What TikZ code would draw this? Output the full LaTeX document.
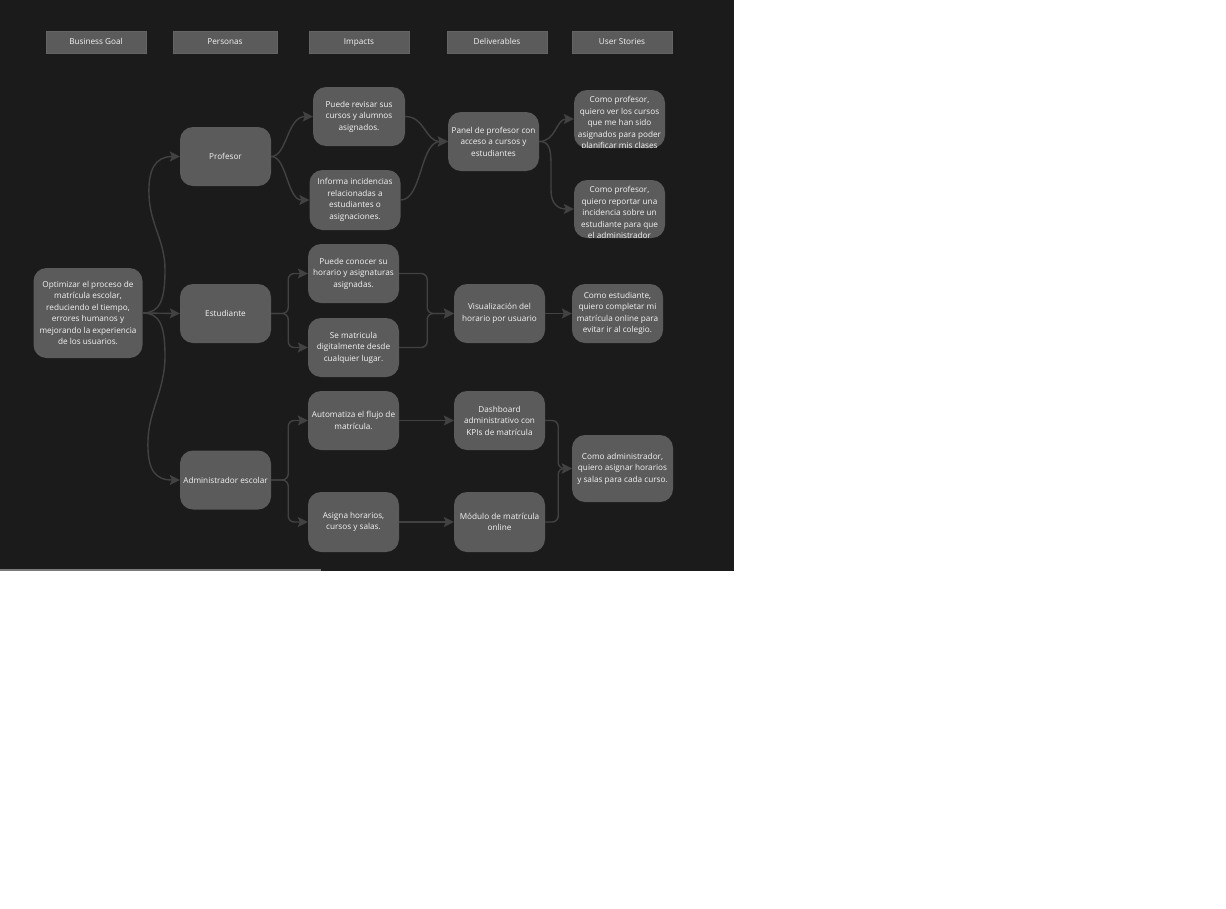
\documentclass[tikz,border=0pt]{standalone}
\usepackage{fontspec}
\setmainfont{Open Sans}
\usetikzlibrary{arrows.meta}
\definecolor{bg}{HTML}{1B1B1B}
\definecolor{boxc}{HTML}{5B5B5B}
\definecolor{linec}{HTML}{424242}
\definecolor{txtc}{HTML}{F4F4F4}
\definecolor{hdrline}{HTML}{646464}
\definecolor{barc}{HTML}{7A7A7A}
\begin{document}
\begin{tikzpicture}[x=1pt,y=-1pt,
  fs/.style={font=\fontsize{8.2}{11.5}\selectfont},
  box/.style={fill=boxc, rounded corners=13pt, text=txtc, align=center, inner sep=0pt, fs, minimum width=91pt, minimum height=59pt},
  hdr/.style={fill=boxc, draw=hdrline, line width=0.6pt, text=txtc, inner sep=0pt, fs, minimum width=100pt, minimum height=22pt, text height=6pt, text depth=1.6pt},
  conn/.style={draw=linec, line width=1.4pt, -{Stealth[length=10pt,width=10pt,inset=2pt]}},
  txt/.style={text=txtc, align=center, inner sep=0pt, fs},
]
\useasboundingbox (0,0) rectangle (1226,908);
\fill[white] (0,0) rectangle (1226,908);
\fill[bg] (0,0) rectangle (734,571);
\draw[barc, line width=1.5pt] (0,570) -- (321,570);

% headers
\node[hdr] (h1) at (96,42) {Business Goal};
\node[hdr, minimum width=104pt] (h2) at (225,42) {Personas};
\node[hdr] (h3) at (359,42) {Impacts};
\node[hdr] (h4) at (497,42) {Deliverables};
\node[hdr] (h5) at (622,42) {User Stories};

% goal
\node[box, minimum width=109pt, minimum height=90pt] (goal) at (88,313) {Optimizar el proceso de\\matrícula escolar,\\reduciendo el tiempo,\\errores humanos y\\mejorando la experiencia\\de los usuarios.};

% personas
\node[box] (prof) at (225.5,156.5) {Profesor};
\node[box] (est) at (225.5,313.5) {Estudiante};
\node[box] (adm) at (225.5,480) {Administrador escolar};

% impacts
\node[box, minimum width=92pt] (i1) at (359,116.5) {Puede revisar sus\\cursos y alumnos\\asignados.};
\node[box, minimum height=60pt] (i2) at (355,200) {Informa incidencias\\relacionadas a\\estudiantes o\\asignaciones.};
\node[box] (i3) at (353.5,273.5) {Puede conocer su\\horario y asignaturas\\asignadas.};
\node[box] (i4) at (353.5,347.5) {Se matricula\\digitalmente desde\\cualquier lugar.};
\node[box] (i5) at (353.5,420.5) {Automatiza el flujo de\\matrícula.};
\node[box, minimum height=60pt] (i6) at (353.5,522) {Asigna horarios,\\cursos y salas.};

% deliverables
\node[box] (d1) at (493.5,141.5) {Panel de profesor con\\acceso a cursos y\\estudiantes};
\node[box] (d2) at (499.5,313.5) {Visualización del\\horario por usuario};
\node[box] (d3) at (499.5,420.5) {Dashboard\\administrativo con\\KPIs de matrícula};
\node[box, minimum height=60pt] (d4) at (499.5,522) {Módulo de matrícula\\online};

% user stories
\node[box, minimum height=58pt] (us1) at (619.5,119) {};
\begin{scope}
\clip[rounded corners=13pt] (us1.north west) rectangle (us1.south east);
\node[txt, anchor=north] (us1t) at ([yshift=-6.5pt]us1.north) {Como profesor,\\quiero ver los cursos\\que me han sido\\asignados para poder\\planificar mis clases};
\end{scope}
\node[box, minimum height=58pt] (us2) at (619.5,209) {};
\begin{scope}
\clip[rounded corners=13pt] (us2.north west) rectangle (us2.south east);
\node[txt, anchor=north] (us2t) at ([yshift=-6.5pt]us2.north) {Como profesor,\\quiero reportar una\\incidencia sobre un\\estudiante para que\\el administrador};
\end{scope}
\node[box] (us3) at (617.5,313.5) {Como estudiante,\\quiero completar mi\\matrícula online para\\evitar ir al colegio.};
\node[box, minimum width=101pt, minimum height=67pt] (us4) at (622.5,468.5) {Como administrador,\\quiero asignar horarios\\y salas para cada curso.};

% connectors
\draw[conn] (goal.east) .. controls (160,313) and (165,300) .. (165,270)
  .. controls (165,240) and (150,225) .. (149,195)
  .. controls (148,170) and (155,156.5) .. (prof.west);
\draw[conn] (goal.east) -- (est.west);
\draw[conn] (goal.east) .. controls (160,313) and (165,326) .. (165,356)
  .. controls (165,390) and (149,410) .. (148,440)
  .. controls (147,470) and (155,480) .. (adm.west);

\draw[conn] (prof.east) .. controls (287,156.5) and (287,116.5) .. (i1.west);
\draw[conn] (prof.east) .. controls (287,156.5) and (287,200) .. (i2.west);
\draw[conn] (i1.east) .. controls (425,116.5) and (425,141.5) .. (d1.west);
\draw[conn] (i2.east) .. controls (422,200) and (420,141.5) .. (d1.west);
\draw[conn] (d1.east) .. controls (556,141.5) and (556,119) .. (us1.west);
\draw[conn] (d1.east) .. controls (549,141.5) and (551,148) .. (551,165) -- (551,190)
  .. controls (551,204) and (558,209) .. (us2.west);

\draw[conn, rounded corners=6pt] (est.east) -- ++(17,0) |- (i3.west);
\draw[conn, rounded corners=6pt] (est.east) -- ++(17,0) |- (i4.west);
\draw[conn, rounded corners=6pt] (i3.east) -- ++(28,0) |- (d2.west);
\draw[conn, rounded corners=6pt] (i4.east) -- ++(28,0) |- (d2.west);
\draw[conn] (d2.east) -- (us3.west);

\draw[conn, rounded corners=6pt] (adm.east) -- ++(17,0) |- (i5.west);
\draw[conn, rounded corners=6pt] (adm.east) -- ++(17,0) |- (i6.west);
\draw[conn] (i5.east) -- (d3.west);
\draw[conn] (i6.east) -- (d4.west);
\draw[conn, rounded corners=6pt] (d3.east) -- ++(13,0) |- (us4.west);
\draw[conn, rounded corners=6pt] (d4.east) -- ++(13,0) |- (us4.west);
\end{tikzpicture}
\end{document}
